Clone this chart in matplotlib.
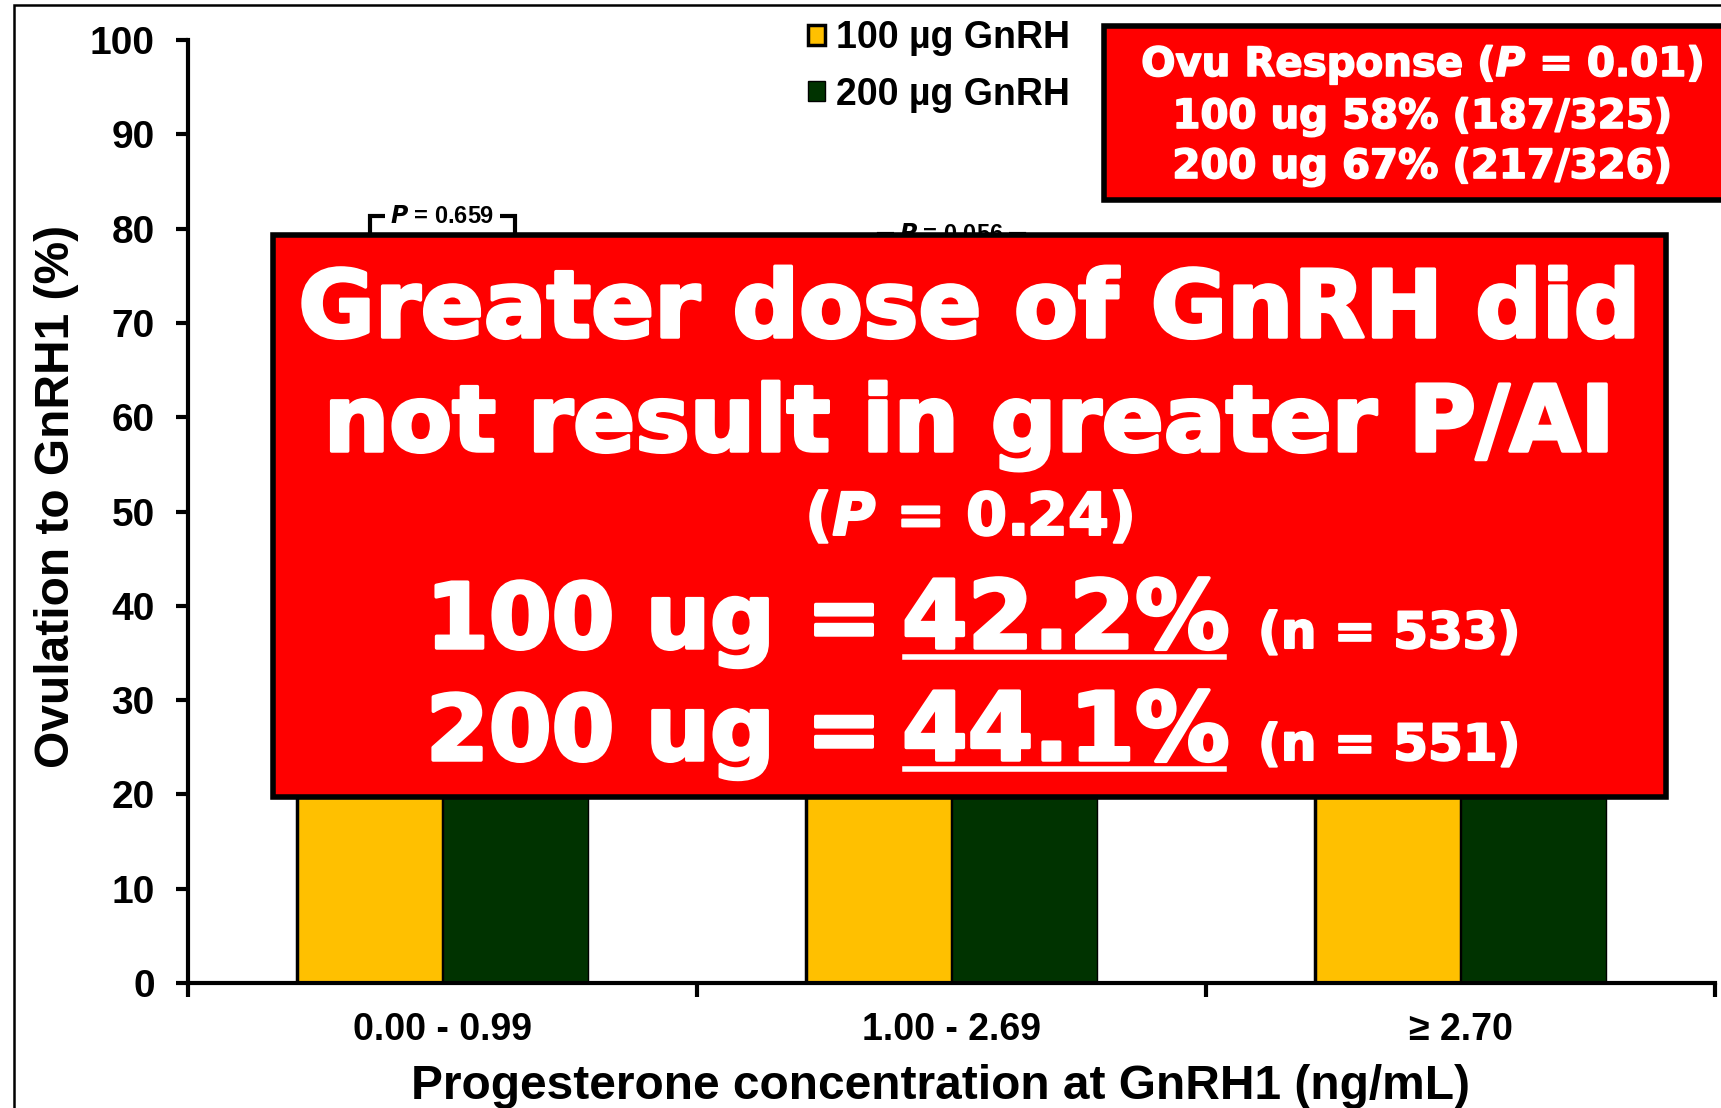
import matplotlib
matplotlib.use("Agg")
import matplotlib.pyplot as plt
import matplotlib.patheffects as pe
from matplotlib.patches import Rectangle
from matplotlib.lines import Line2D
import numpy as np

plt.rcParams['font.family'] = ['Liberation Sans', 'DejaVu Sans']
plt.rcParams['font.weight'] = 'bold'
plt.rcParams['axes.labelweight'] = 'bold'
plt.rcParams['mathtext.fontset'] = 'custom'
plt.rcParams['mathtext.it'] = 'DejaVu Sans:bold:italic'
plt.rcParams['mathtext.rm'] = 'DejaVu Sans:bold'

# progesterone classes and ovulation to GnRH1 (%) per dose
categories = ['0.00 - 0.99', '1.00 - 2.69', '\u2265 2.70']
ovu_100 = [73, 60, 47]
ovu_200 = [76, 72, 57]
series_labels = ['100 \u00b5g GnRH', '200 \u00b5g GnRH']

# pairwise comparisons drawn above the first two classes
bracket_idx = [0, 1]
bracket_y = [81.3, 79.4]
bracket_p = ['$\\mathit{P}$ = 0.659', '$\\mathit{P}$ = 0.056']

overall_lines = ['Ovu Response ($\\mathit{P}$ = 0.01)',
                 '100 ug 58% (187/325)',
                 '200 ug 67% (217/326)']

W, H = 1721, 1108
fig = plt.figure(figsize=(W / 100, H / 100), dpi=100)


def fx(px):
    return px / W


def fy(py):
    return 1 - py / H


ax = fig.add_axes([fx(188), fy(983), fx(1715) - fx(188), fy(40) - fy(983)])

x = np.arange(len(categories)) + 0.5
w = 0.285
b1 = ax.bar(x - w / 2, ovu_100, w, color='#FFC000', edgecolor='black',
            linewidth=2.5, label=series_labels[0], zorder=2)
b2 = ax.bar(x + w / 2, ovu_200, w, color='#003300', edgecolor='black',
            linewidth=1, label=series_labels[1], zorder=2)

ax.set_xlim(0, len(categories))
ax.set_ylim(0, 100)
ax.set_yticks(np.arange(0, 101, 10))
ax.set_xticks(x)
ax.set_xticklabels(categories)
ax.set_xticks(np.arange(len(categories) + 1), minor=True)
ax.tick_params(axis='x', which='major', length=0, pad=21, labelsize=27)
ax.tick_params(axis='x', which='minor', length=10, width=3, direction='out')
ax.tick_params(axis='y', length=9, width=3, pad=15, labelsize=28)
for s in ['top', 'right']:
    ax.spines[s].set_visible(False)
for s in ['left', 'bottom']:
    ax.spines[s].set_linewidth(3)

ax.set_ylabel('Ovulation to GnRH1 (%)', fontsize=34.5)
ax.yaxis.set_label_coords(-0.0714, 0.516)
ax.set_xlabel('Progesterone concentration at GnRH1 (ng/mL)', fontsize=34.5)
ax.xaxis.set_label_coords(0.493, -0.086)

# comparison brackets between the two doses
for i, yb, ptxt in zip(bracket_idx, bracket_y, bracket_p):
    xl, xr = x[i] - w / 2, x[i] + w / 2
    ax.plot([xl, xl, xr, xr], [yb - 3, yb, yb, yb - 3], color='black',
            lw=3, solid_joinstyle='miter', zorder=3, clip_on=False)
    ax.text(x[i], yb, ptxt, ha='center', va='center', fontsize=17,
            zorder=4, bbox=dict(facecolor='white', edgecolor='none', pad=4))

leg = ax.legend(handles=[b1, b2], loc='upper left',
                bbox_to_anchor=(fx(808), fy(20)),
                bbox_transform=fig.transFigure, frameon=False,
                fontsize=27, handlelength=0.45, handleheight=0.45,
                handletextpad=0.3, labelspacing=0.55, borderpad=0,
                borderaxespad=0)

# outer frame of the slide
fig.add_artist(Rectangle((fx(14), -0.05), 1.2, fy(5) + 0.05,
                         transform=fig.transFigure, fill=False,
                         edgecolor='black', lw=1.8, zorder=1))

# overall ovulation box (top right)
fig.add_artist(Rectangle((fx(1104), fy(200)), 0.5, fy(26) - fy(200),
                         transform=fig.transFigure, facecolor='#FF0000',
                         edgecolor='black', lw=4, zorder=5))
thick = [pe.withStroke(linewidth=1.2, foreground='white')]
for txt, yb in zip(overall_lines, [76, 128, 178]):
    fig.text(fx(1422), fy(yb), txt, ha='center', va='baseline', color='white',
             family='DejaVu Sans', fontsize=29, zorder=6, path_effects=thick)

# main conclusion box
fig.add_artist(Rectangle((fx(273), fy(797)), fx(1666) - fx(273),
                         fy(235) - fy(797), transform=fig.transFigure,
                         facecolor='#FF0000', edgecolor='black', lw=4,
                         zorder=5))
heavy = [pe.withStroke(linewidth=2.5, foreground='white')]
fig.text(fx(969), fy(337), 'Greater dose of GnRH did', ha='center',
         va='baseline', color='white', family='DejaVu Sans', fontsize=67,
         zorder=6, path_effects=heavy)
fig.text(fx(969), fy(451), 'not result in greater P/AI', ha='center',
         va='baseline', color='white', family='DejaVu Sans', fontsize=66,
         zorder=6, path_effects=heavy)
fig.text(fx(969), fy(535), '($\\mathit{P}$ = 0.24)', ha='center',
         va='baseline', color='white', family='DejaVu Sans', fontsize=42.5,
         zorder=6, path_effects=[pe.withStroke(linewidth=1.5, foreground='white')])

dose_rows = [('100 ug =', '42.2%', '(n = 533)', 648),
             ('200 ug =', '44.1%', '(n = 551)', 760)]
for lead, pct, nobs, yb in dose_rows:
    fig.text(fx(426), fy(yb), lead, ha='left', va='baseline', color='white',
             family='DejaVu Sans', fontsize=65, zorder=6, path_effects=heavy)
    fig.text(fx(902), fy(yb), pct, ha='left', va='baseline', color='white',
             family='DejaVu Sans', fontsize=68, zorder=6, path_effects=heavy)
    fig.add_artist(Line2D([fx(905), fx(1224)], [fy(yb + 9), fy(yb + 9)],
                          transform=fig.transFigure, color='white', lw=4,
                          zorder=6))
    fig.text(fx(1258), fy(yb), nobs, ha='left', va='baseline', color='white',
             family='DejaVu Sans', fontsize=36, zorder=6,
             path_effects=[pe.withStroke(linewidth=1.5, foreground='white')])

fig.savefig('out.png', dpi=100)
